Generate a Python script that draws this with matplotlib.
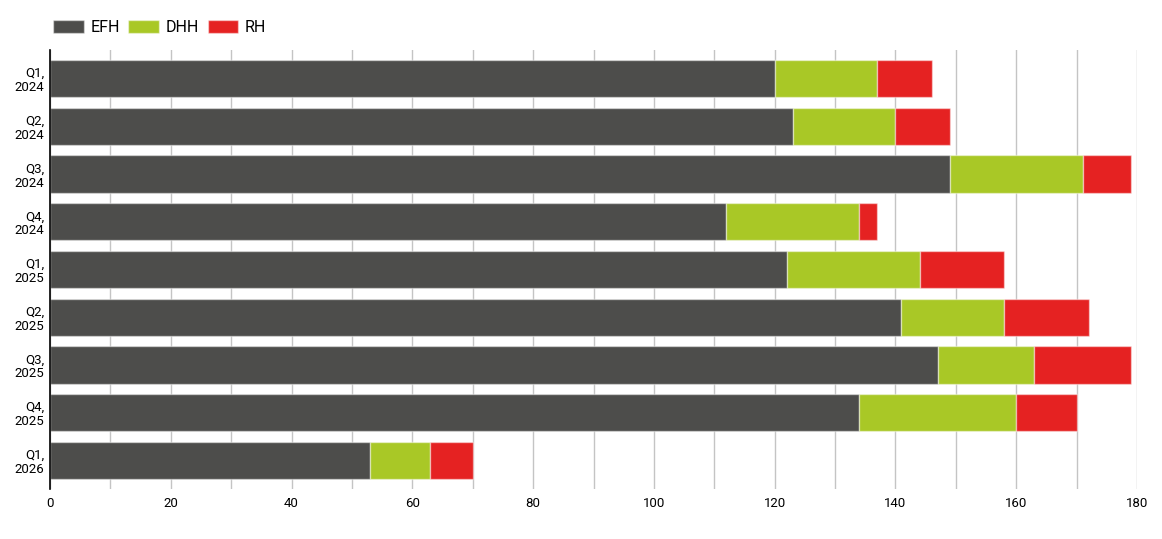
import matplotlib.pyplot as plt
from matplotlib.ticker import MultipleLocator

plt.rcParams['font.family'] = ['Roboto', 'DejaVu Sans']

quarters = ["Q1,\n2024", "Q2,\n2024", "Q3,\n2024", "Q4,\n2024", "Q1,\n2025",
            "Q2,\n2025", "Q3,\n2025", "Q4,\n2025", "Q1,\n2026"]
efh = [120, 123, 149, 112, 122, 141, 147, 134, 53]
dhh = [17, 17, 22, 22, 22, 17, 16, 26, 10]
rh = [9, 9, 8, 3, 14, 14, 16, 10, 7]

colors = {"EFH": "#4d4d4b", "DHH": "#a9c826", "RH": "#e52222"}

fig = plt.figure(figsize=(11.62, 5.39), dpi=100)
ax = fig.add_axes([50 / 1162, 1 - 489 / 539, 1087 / 1162, 439 / 539])

y = range(len(quarters))
left = [0] * len(quarters)
for name, vals in [("EFH", efh), ("DHH", dhh), ("RH", rh)]:
    ax.barh(y, vals, left=left, height=0.78, color=colors[name],
            edgecolor=(1, 1, 1, 0.45), linewidth=1, label=name, zorder=3)
    left = [a + b for a, b in zip(left, vals)]

ax.set_xlim(0, 180)
ax.set_ylim(8.6, -0.6)
ax.set_yticks(list(y))
ax.set_yticklabels(quarters, fontsize=9.5, linespacing=1.1)
ax.xaxis.set_major_locator(MultipleLocator(20))
ax.xaxis.set_minor_locator(MultipleLocator(10))
ax.grid(axis="x", which="both", color="#c4c4c4", linewidth=1, zorder=0)
ax.tick_params(axis="x", which="both", length=0, labelsize=9.5, pad=6)
ax.tick_params(axis="y", length=0, pad=4)
for s in ["top", "right", "bottom"]:
    ax.spines[s].set_visible(False)
ax.spines["left"].set_color("black")
ax.spines["left"].set_linewidth(1.2)
ax.spines["left"].set_zorder(4)

ax.legend(loc="lower left", bbox_to_anchor=(0.003, 1.034), ncol=3, frameon=False,
          fontsize=11.5, handlelength=1.9, handleheight=0.95, columnspacing=0.55,
          handletextpad=0.42, borderaxespad=0, borderpad=0)

fig.savefig("out.png", dpi=100)
